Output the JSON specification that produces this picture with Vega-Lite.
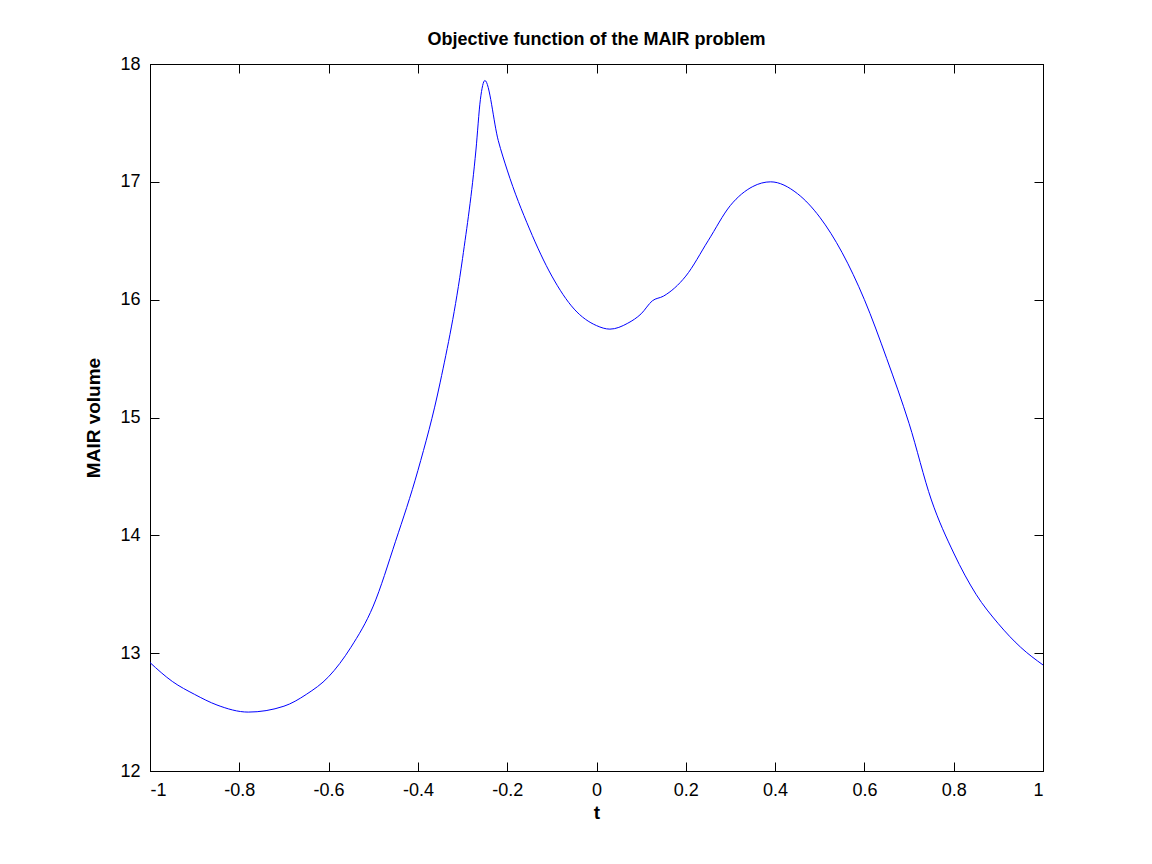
{
  "$schema": "https://vega.github.io/schema/vega-lite/v6.json",
  "autosize": {"type": "none"},
  "width": 893,
  "height": 707,
  "padding": {"left": 150, "top": 64, "right": 109, "bottom": 93},
  "background": "white",
  "title": {"text": "Objective function of the MAIR problem", "font": "Liberation Sans", "fontSize": 18, "fontWeight": "bold", "color": "black", "offset": 6},
  "config": {
    "view": {"stroke": "black", "strokeWidth": 1},
    "axis": {"labelFont": "Liberation Sans", "labelFontSize": 18, "labelColor": "black", "titleFont": "Liberation Sans", "titleFontSize": 19, "titleColor": "black", "grid": false, "domainColor": "black", "tickColor": "black", "tickSize": -9, "labelPadding": 19}
  },
  "data": {"values": [
    {"t": -1.0, "v": 12.92}, {"t": -0.95, "v": 12.76}, {"t": -0.9, "v": 12.65}, {"t": -0.85, "v": 12.56},
    {"t": -0.78, "v": 12.5}, {"t": -0.7, "v": 12.55}, {"t": -0.65, "v": 12.65}, {"t": -0.6, "v": 12.8},
    {"t": -0.55, "v": 13.05}, {"t": -0.5, "v": 13.4}, {"t": -0.45, "v": 13.95}, {"t": -0.4, "v": 14.55},
    {"t": -0.35, "v": 15.3}, {"t": -0.3, "v": 16.35}, {"t": -0.27, "v": 17.27}, {"t": -0.26, "v": 17.7},
    {"t": -0.25, "v": 17.86}, {"t": -0.22, "v": 17.35}, {"t": -0.2, "v": 17.1}, {"t": -0.15, "v": 16.6}, {"t": -0.1, "v": 16.2},
    {"t": -0.05, "v": 15.92}, {"t": 0.0, "v": 15.78}, {"t": 0.03, "v": 15.75}, {"t": 0.07, "v": 15.8},
    {"t": 0.1, "v": 15.88}, {"t": 0.125, "v": 15.99}, {"t": 0.15, "v": 16.03}, {"t": 0.2, "v": 16.2},
    {"t": 0.25, "v": 16.5}, {"t": 0.3, "v": 16.8}, {"t": 0.35, "v": 16.96}, {"t": 0.39, "v": 17.0},
    {"t": 0.45, "v": 16.9}, {"t": 0.5, "v": 16.7}, {"t": 0.55, "v": 16.4}, {"t": 0.6, "v": 16.0},
    {"t": 0.65, "v": 15.5}, {"t": 0.7, "v": 14.95}, {"t": 0.75, "v": 14.3}, {"t": 0.8, "v": 13.85},
    {"t": 0.85, "v": 13.5}, {"t": 0.9, "v": 13.25}, {"t": 0.95, "v": 13.05}, {"t": 1.0, "v": 12.9}
  ]},
  "layer": [
    {
      "mark": {"type": "line", "color": "#0000ff", "strokeWidth": 1, "interpolate": "monotone"},
      "encoding": {
        "x": {"field": "t", "type": "quantitative", "scale": {"domain": [-1, 1], "nice": false}, "title": "t", "axis": {"values": [-1, -0.8, -0.6, -0.4, -0.2, 0, 0.2, 0.4, 0.6, 0.8, 1], "labelExpr": "replace(format(datum.value, '~g'), '−', '-')", "titlePadding": 4}},
        "y": {"field": "v", "type": "quantitative", "scale": {"domain": [12, 18], "nice": false, "zero": false}, "title": "MAIR volume", "axis": {"tickCount": 6, "titlePadding": 16}}
      }
    },
    {
      "mark": {"type": "line", "opacity": 0},
      "encoding": {
        "x": {"field": "t", "type": "quantitative", "scale": {"domain": [-1, 1], "nice": false}, "axis": {"orient": "top", "labels": false, "title": null, "values": [-1, -0.8, -0.6, -0.4, -0.2, 0, 0.2, 0.4, 0.6, 0.8, 1]}},
        "y": {"field": "v", "type": "quantitative", "scale": {"domain": [12, 18], "nice": false, "zero": false}, "axis": {"orient": "right", "labels": false, "title": null, "tickCount": 6}}
      }
    }
  ],
  "resolve": {"axis": {"x": "independent", "y": "independent"}}
}
